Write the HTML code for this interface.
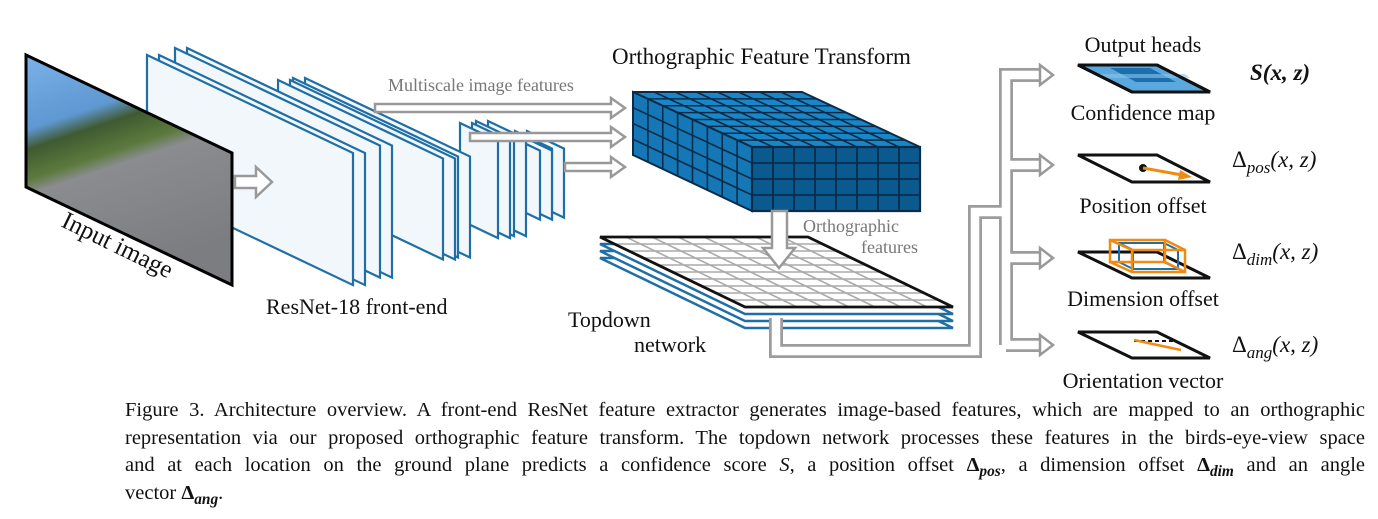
<!DOCTYPE html>
<html><head><meta charset="utf-8">
<style>
html,body{margin:0;padding:0;background:#fff;}
body{width:1378px;height:519px;position:relative;overflow:hidden;font-family:"Liberation Serif",serif;}
#cap{position:absolute;left:125px;top:397px;width:1240px;font-size:20.5px;line-height:27.5px;color:#111;}
#cap div{text-align:justify;text-align-last:justify;white-space:nowrap;height:27.5px;}
#cap div.last{text-align-last:left;}
b.m{font-weight:bold;font-style:normal;}
sub{line-height:0;font-size:75%;}
</style></head><body>
<svg id="s" width="1378" height="519" viewBox="0 0 1378 519" xmlns="http://www.w3.org/2000/svg" style="position:absolute;left:0;top:0">
<defs>
<linearGradient id="img" x1="0" y1="0" x2="0.3" y2="1">
<stop offset="0" stop-color="#7ab2e8"/><stop offset="0.3" stop-color="#5f98d2"/>
<stop offset="0.38" stop-color="#3f5a30"/><stop offset="0.5" stop-color="#5c7a3e"/>
<stop offset="0.56" stop-color="#8a8c90"/><stop offset="1" stop-color="#7c7d80"/>
</linearGradient>
</defs>
<g id="slabs"></g>
<polygon points="26,55 232,153 232,285 26,187" fill="url(#img)" stroke="#000" stroke-width="3"/>
<text transform="translate(60,226) rotate(26)" font-size="25" fill="#111">Input image</text>
<g id="arrows" fill="#fff" stroke="#999" stroke-width="2.5"></g>
<text x="388" y="91" font-size="18" fill="#777">Multiscale image features</text>
<text x="266" y="314" font-size="22" fill="#111">ResNet-18 front-end</text>
<text x="612" y="64" font-size="23" fill="#111">Orthographic Feature Transform</text>
<g id="cube"></g>
<g id="td"></g>
<polygon points="772,211 787,211 787,248 795,248 779,268 763,248 772,248" fill="#fff" stroke="#999" stroke-width="2.5"/>
<text x="803" y="232" font-size="18" fill="#777">Orthographic</text>
<text x="918" y="253" font-size="18" fill="#777" text-anchor="end">features</text>
<text x="568" y="327" font-size="22" fill="#111">Topdown</text>
<text x="634" y="352" font-size="22" fill="#111">network</text>
<g fill="none" stroke-linejoin="miter">
<path d="M776,318 V351 H975 V212 H1006 M1006,345 V75 H1040 M1006,165 H1040 M1006,258 H1040 M1006,345 H1040" stroke="#9c9c9c" stroke-width="14"/>
<path d="M776,316 V351 H975 V212 H1006 M1006,345 V75 H1042 M1006,165 H1042 M1006,258 H1042 M1006,345 H1042" stroke="#fff" stroke-width="8.5"/>
</g>
<g fill="#fff" stroke="#999" stroke-width="2.5">
<polygon points="1040,65 1053,75 1040,85"/><polygon points="1040,155 1053,165 1040,175"/>
<polygon points="1040,248 1053,258 1040,268"/><polygon points="1040,335 1053,345 1040,355"/>
</g>
<text x="1143" y="52" font-size="22" fill="#111" text-anchor="middle">Output heads</text>
<polygon points="1078,65 1157,65 1210,92 1132,92" fill="#5aa8dd" stroke="#111" stroke-width="3"/>
<polygon points="1110,68 1150,68 1176,82 1136,82" fill="#1c6fae"/>
<polygon points="1095,74 1185,74 1190,78 1100,78" fill="#8cc4ea" opacity="0.6"/>
<polygon points="1078,65 1157,65 1210,92 1132,92" fill="none" stroke="#111" stroke-width="3"/>
<text x="1143" y="120" font-size="22" fill="#111" text-anchor="middle">Confidence map</text>
<polygon points="1078,155 1157,155 1210,182 1132,182" fill="#fff" stroke="#111" stroke-width="3"/>
<circle cx="1143" cy="168" r="4" fill="#111"/>
<line x1="1143" y1="168" x2="1182" y2="175" stroke="#f08a10" stroke-width="3"/>
<polygon points="1192,177 1180,170 1178,180" fill="#f08a10"/>
<text x="1143" y="213" font-size="22" fill="#111" text-anchor="middle">Position offset</text>
<polygon points="1078,252 1157,252 1210,278 1132,278" fill="#fff" stroke="#111" stroke-width="3"/>
<g fill="none" stroke="#1f6fa5" stroke-width="2">
<polygon points="1119,243 1164,243 1164,262 1119,262"/><polygon points="1133,250 1178,250 1178,269 1133,269"/>
<line x1="1119" y1="243" x2="1133" y2="250"/><line x1="1164" y1="243" x2="1178" y2="250"/><line x1="1164" y1="262" x2="1178" y2="269"/><line x1="1119" y1="262" x2="1133" y2="269"/>
</g>
<g fill="none" stroke="#f08a10" stroke-width="2.5">
<polygon points="1110,240 1165,240 1165,262 1110,262"/><polygon points="1132,250 1185,250 1185,272 1132,272"/>
<line x1="1110" y1="240" x2="1132" y2="250"/><line x1="1165" y1="240" x2="1185" y2="250"/><line x1="1165" y1="262" x2="1185" y2="272"/><line x1="1110" y1="262" x2="1132" y2="272"/>
</g>
<text x="1143" y="306" font-size="22" fill="#111" text-anchor="middle">Dimension offset</text>
<polygon points="1078,332 1157,332 1210,358 1132,358" fill="#fff" stroke="#111" stroke-width="3"/>
<line x1="1134" y1="341" x2="1176" y2="341" stroke="#111" stroke-width="2" stroke-dasharray="4,3"/>
<line x1="1134" y1="340" x2="1181" y2="350" stroke="#f08a10" stroke-width="2.5"/>
<text x="1143" y="388" font-size="22" fill="#111" text-anchor="middle">Orientation vector</text>
<g font-size="23" fill="#111" font-style="italic">
<text x="1250" y="80" font-weight="bold">S(x, z)</text>
<text x="1232" y="167"><tspan font-style="normal">Δ</tspan><tspan font-size="17" dy="6">pos</tspan><tspan dy="-6">(x, z)</tspan></text>
<text x="1232" y="259"><tspan font-style="normal">Δ</tspan><tspan font-size="17" dy="6">dim</tspan><tspan dy="-6">(x, z)</tspan></text>
<text x="1232" y="352"><tspan font-style="normal">Δ</tspan><tspan font-size="17" dy="6">ang</tspan><tspan dy="-6">(x, z)</tspan></text>
</g>
</svg>
<div id="cap">
<div>Figure 3. Architecture overview. A front-end ResNet feature extractor generates image-based features, which are mapped to an orthographic</div>
<div>representation via our proposed orthographic feature transform. The topdown network processes these features in the birds-eye-view space</div>
<div>and at each location on the ground plane predicts a confidence score <i>S</i>, a position offset <b class="m">Δ<sub><i>pos</i></sub></b>, a dimension offset <b class="m">Δ<sub><i>dim</i></sub></b> and an angle</div>
<div class="last">vector <b class="m">Δ<sub><i>ang</i></sub></b>.</div>
</div>
<script>
var NS="http://www.w3.org/2000/svg";
function el(p,t,a){var e=document.createElementNS(NS,t);for(var k in a)e.setAttribute(k,a[k]);p.appendChild(e);return e;}
function pts(a){return a.map(function(p){return p[0]+","+p[1]}).join(" ");}
var k=0.476,S=document.getElementById("slabs");
var slabs=[[515,131,552,69],[503,133,540,69],[476,121,514,97],[460,123,498,97],[293,78,458,101],[278,80,443,101],[175,48,380,132],[147,55,353,132]];
slabs.forEach(function(s){var L=s[0],T=s[1],R=s[2],H=s[3],d=12,yr=T+(R-L)*k;
 var f=function(o){return [[L+o,T],[R+o,yr],[R+o,yr+H],[L+o,T+H]];};
 el(S,"polygon",{points:pts(f(d)),fill:"#f2f7fc",stroke:"#1f6fa5","stroke-width":2.2});
 el(S,"polygon",{points:pts(f(0)),fill:"#f2f7fc",stroke:"#1f6fa5","stroke-width":2.2});});
var A=document.getElementById("arrows");
function harrow(x1,x2,y,sh,hh,hl){el(A,"polygon",{points:pts([[x1,y-sh],[x2-hl,y-sh],[x2-hl,y-hh],[x2,y],[x2-hl,y+hh],[x2-hl,y+sh],[x1,y+sh]])});}
harrow(235,272,182,6,15,16);
harrow(375,625,108,4,10,14);harrow(470,625,137,4,10,14);harrow(565,625,167,4,10,14);
function lerp(a,b,t){return [a[0]+(b[0]-a[0])*t,a[1]+(b[1]-a[1])*t];}
function grid(g,P,n,m,fill,st,sw,ost,osw){el(g,"polygon",{points:pts(P),fill:fill});
 for(var i=1;i<n;i++){var a=lerp(P[0],P[1],i/n),b=lerp(P[3],P[2],i/n);el(g,"line",{x1:a[0],y1:a[1],x2:b[0],y2:b[1],stroke:st,"stroke-width":sw});}
 for(var j=1;j<m;j++){var a=lerp(P[0],P[3],j/m),b=lerp(P[1],P[2],j/m);el(g,"line",{x1:a[0],y1:a[1],x2:b[0],y2:b[1],stroke:st,"stroke-width":sw});}
 el(g,"polygon",{points:pts(P),fill:"none",stroke:ost,"stroke-width":osw});}
var C=document.getElementById("cube");
var a=[633,92],b=[802,92],c=[920,147],d=[752,147],dd=[752,211],cc=[920,211],aa=[633,155];
grid(C,[a,b,c,d],8,8,"#1a86c8","#0b2c48",1.6,"#0b2c48",2);
grid(C,[a,d,dd,aa],8,4,"#1577b5","#0b2c48",1.6,"#0b2c48",2);
grid(C,[d,c,cc,dd],8,4,"#0a5a90","#0b2c48",1.8,"#0b2c48",2.2);
var T=document.getElementById("td"),P=[[600,237],[808,237],[953,307],[745,307]];
[21,14,7].forEach(function(o){el(T,"polygon",{points:pts(P.map(function(p){return [p[0],p[1]+o]})),fill:"#fff",stroke:"#1f6fa5","stroke-width":2.5});});
grid(T,P,8,10,"#fff","#aaa",1.6,"#111",2.8);
</script>
</body></html>
